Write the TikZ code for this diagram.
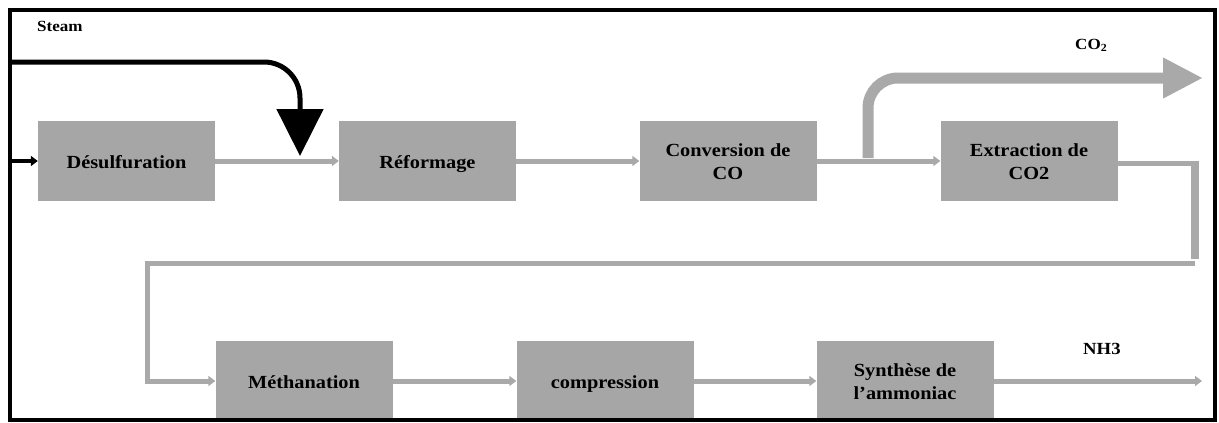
\documentclass[tikz,border=0pt]{standalone}
\usepackage{fontspec}
\usepackage{graphicx}
\setmainfont{Liberation Serif}
\usetikzlibrary{arrows.meta}
\definecolor{boxgray}{HTML}{A6A6A6}
\definecolor{linegray}{HTML}{A9A9A9}
\newcommand{\widetxt}[1]{\scalebox{1.1}[1]{\begin{tabular}{@{}c@{}}#1\end{tabular}}}
\tikzset{
  procbox/.style={fill=boxgray, draw=none, minimum width=177pt, minimum height=80pt,
    inner sep=0pt},
  boxtext/.style={inner sep=0pt, align=center, font=\fontsize{18.5}{23}\selectfont\bfseries},
  flow/.style={draw=linegray, line width=5pt, -{Triangle[length=7pt,width=10pt]}},
  plainflow/.style={draw=linegray, line width=5pt},
  lbl/.style={inner sep=0pt, anchor=west}
}
\begin{document}
\begin{tikzpicture}[x=1pt,y=-1pt]
\useasboundingbox (0,0) rectangle (1219,423);
\fill[white] (0,0) rectangle (1219,423);
% top row
\node[procbox] (des) at (126.5,161) {};
\node[procbox] (ref) at (427.5,161) {};
\node[procbox] (conv) at (728,161) {};
\node[procbox] (ext) at (1029,161) {};
% bottom row
\node[procbox] (meth) at (304,381) {};
\node[procbox] (comp) at (605,381) {};
\node[procbox] (syn) at (905,381) {};
% box texts
\node[boxtext] (desT) at ([yshift=-3pt]des.center) {\widetxt{Désulfuration}};
\node[boxtext] (refT) at ([yshift=-3pt]ref.center) {\widetxt{Réformage}};
\node[boxtext] (convT) at ([yshift=-2.5pt]conv.center) {\widetxt{Conversion de\\CO}};
\node[boxtext] (extT) at ([yshift=-2.5pt]ext.center) {\widetxt{Extraction de\\CO2}};
\node[boxtext] (methT) at ([yshift=-3pt]meth.center) {\widetxt{Méthanation}};
\node[boxtext] (compT) at ([yshift=-3pt]comp.center) {\widetxt{compression}};
\node[boxtext] (synT) at ([yshift=-2pt]syn.center) {\widetxt{Synthèse de\\l'ammoniac}};
% coordinates
\coordinate (inL) at (10,161);
\coordinate (stL) at (10,62);
\coordinate (stC) at (300,62);
\coordinate (stE) at (300,156);
\coordinate (coA) at (868,158);
\coordinate (coB) at (868,78);
\coordinate (coE) at (1203,78);
\coordinate (exA) at (1195,163);
\coordinate (exB) at (1195,263);
\coordinate (exC) at (147,263);
\coordinate (exD) at (147,381);
\coordinate (nhE) at (1202,381);
% labels
\node[lbl, font=\fontsize{15.5}{17}\selectfont\bfseries] (steam) at (37,28) {\widetxt{Steam}};
\node[lbl, font=\fontsize{15.5}{17}\selectfont\bfseries] (co2) at (1075,46) {\widetxt{CO\textsubscript{2}}};
\node[lbl, font=\fontsize{17}{19}\selectfont\bfseries] (nh3) at (1083,351) {\widetxt{NH3}};
% flows top
\draw[line width=4pt, black, -{Triangle[length=7pt,width=10pt]}] (inL) -- (des.west);
\draw[flow] (des.east) -- (ref.west);
\draw[flow] (ref.east) -- (conv.west);
\draw[flow] (conv.east) -- (ext.west);
% steam
\draw[black, line width=5pt, rounded corners=36pt, -{Triangle[length=47pt,width=46pt]}] (stL) -- (stC) -- (stE);
% CO2 branch
\draw[linegray, line width=11pt, rounded corners=30pt, -{Triangle[length=40pt,width=38pt]}] (coA) -- (coB) -- (coE);
% extraction to methanation
\draw[plainflow] (ext.east |- exA) -- (exA);
\draw[linegray, line width=8pt] ([yshift=2.5pt]exA) -- ([yshift=4pt]exB);
\draw[plainflow, -{Triangle[length=7pt,width=10pt]}] (exB) -- (exC) -- (exD) -- (meth.west);
% bottom flows
\draw[flow] (meth.east) -- (comp.west);
\draw[flow] (comp.east) -- (syn.west);
\draw[flow] (syn.east) -- (nhE);
% frame
\fill[white] (0,420) rectangle (1219,423);
\draw[black, line width=4pt] (10,10) rectangle (1215,420);
\end{tikzpicture}
\end{document}
